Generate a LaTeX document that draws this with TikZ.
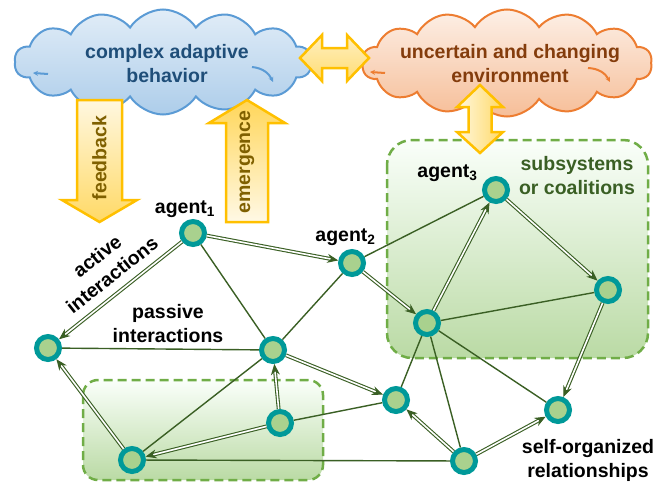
\documentclass[tikz,border=0pt]{standalone}
\usepackage{fontspec}
\setmainfont{Liberation Sans}
\usetikzlibrary{shapes.symbols,
  arrows.meta
}
\definecolor{cloudblue}{HTML}{5B9BD5}
\definecolor{cloudorange}{HTML}{ED7D31}
\definecolor{textblue}{HTML}{1F4E79}
\definecolor{textbrown}{HTML}{843C0C}
\definecolor{textolive}{HTML}{7F6000}
\definecolor{arrowgold}{HTML}{FFC000}
\definecolor{boxgreen}{HTML}{70AD47}
\definecolor{edgegreen}{HTML}{3A5F24}
\definecolor{agentfill}{HTML}{A9D18E}
\definecolor{agentring}{HTML}{009999}
\tikzset{>={Stealth[length=11pt,width=9pt]},
  agent/.style={circle,draw=agentring,line width=5pt,fill=agentfill,minimum size=23pt,inner sep=0pt},
  active/.style={->,draw=edgegreen,double=white,line width=1.1pt,double distance=1.6pt},
  passive/.style={draw=edgegreen,line width=1.4pt},
  txt/.style={font=\fontsize{19.5}{24}\selectfont\bfseries,align=center,inner sep=0pt},
  coalition/.style={draw=boxgreen,line width=2.5pt,dash pattern=on 9pt off 5pt,top color=green!2!white,bottom color=agentfill!80!white},
  bigarrow/.style={draw=arrowgold,line width=2.5pt,line join=miter},
  puff/.style={cloud,cloud puffs=14,cloud puff arc=115,cloud ignores aspect,line width=2pt,inner sep=0pt}
}

\begin{document}
\begin{tikzpicture}[x=1pt,y=-1pt]
  \useasboundingbox (0,0) rectangle (665,482);

  % Coalitions
  \draw[coalition,rounded corners=15pt] (83,380) rectangle (323,480);
  \draw[coalition,rounded corners=25pt] (387,140) rectangle (648,358);

  % Clouds
  \node[puff,draw=cloudblue,top color=cloudblue!18!white,bottom color=cloudblue!50!white,
    minimum width=297pt,minimum height=105pt] (Behavior) at (163,62) {};
  \node[txt,text=textblue] at (167,64) {complex adaptive\\behavior};
  \draw[cloudblue,line width=2pt,<-,>={Stealth[length=5pt,width=5pt]}] (33,73) -- (48,74);
  \draw[cloudblue,line width=2pt,->,>={Stealth[length=5pt,width=5pt]}] (252,67) to[bend left=30] (273,82);

  \node[puff,draw=cloudorange,top color=cloudorange!12!white,bottom color=cloudorange!50!white,
    minimum width=290pt,minimum height=107pt] (Environment) at (507,63) {};
  \node[txt,text=textbrown] at (510,64) {uncertain and changing\\environment};
  \draw[cloudorange,line width=2pt,<-,>={Stealth[length=5pt,width=5pt]}] (370,72) -- (385,73);
  \draw[cloudorange,line width=2pt,->,>={Stealth[length=5pt,width=5pt]}] (588,68) to[bend left=30] (610,82);

  % Block arrows
  \draw[bigarrow,top color=arrowgold!25!white,bottom color=arrowgold!55!white]
    (300,58) -- (322,35) -- (322,48) -- (347,48) -- (347,35) -- (369,58)
    -- (347,81) -- (347,68) -- (322,68) -- (322,81) -- cycle;
  \draw[bigarrow,left color=arrowgold!12!white,right color=arrowgold!60!white]
    (480,85) -- (503,107) -- (491.5,107) -- (491.5,132) -- (503,132) -- (480,153)
    -- (457,132) -- (468.5,132) -- (468.5,107) -- (457,107) -- cycle;
  \draw[bigarrow,top color=arrowgold!12!white,bottom color=arrowgold!60!white]
    (77,100) -- (122,100) -- (122,200) -- (137,200) -- (99.5,222) -- (62,200) -- (77,200) -- cycle;
  \node[txt,text=textolive,rotate=90] (Feedback) at (99.5,158) {feedback};
  \draw[bigarrow,top color=arrowgold!65!white,bottom color=arrowgold!10!white]
    (226,222) -- (226,123) -- (209,123) -- (247,100) -- (285,123) -- (268,123) -- (268,222) -- cycle;
  \node[txt,text=textolive,rotate=90] (Emergence) at (247,162) {emergence};

  % Agents
  \node[agent] (Agent1) at (193,233) {};
  \node[agent] (Agent2) at (352,263) {};
  \node[agent] (Agent3) at (496,190) {};
  \node[agent] (Right) at (608,290) {};
  \node[agent] (Cluster) at (427,323) {};
  \node[agent] (Left) at (48,348) {};
  \node[agent] (Hub) at (273,350) {};
  \node[agent] (Corner) at (132,460) {};
  \node[agent] (Inner) at (280,423) {};
  \node[agent] (Middle) at (396,400) {};
  \node[agent] (Self) at (558,410) {};
  \node[agent] (Bottom) at (464,461) {};

  % Labels
  \node[txt,anchor=base] at (185,213) {agent\textsubscript{1}};
  \node[txt,anchor=base] at (345.5,241) {agent\textsubscript{2}};
  \node[txt,anchor=base] at (447.5,177) {agent\textsubscript{3}};
  \node[txt,rotate=38.4] at (104.5,265.5) {active\\interactions};
  \node[txt] at (168,324) {passive\\interactions};
  \node[txt,text=edgegreen] at (577,176) {subsystems\\or coalitions};
  \node[txt] at (588,460) {self-organized\\relationships};

  % Passive interactions
  \draw[passive] (Agent1) -- (Hub);
  \draw[passive] (Left) -- (Hub);
  \draw[passive] (Hub) -- (Agent2);
  \draw[passive] (Hub) -- (Corner);
  \draw[passive] (Inner) -- (Middle);
  \draw[passive] (Corner) -- (Bottom);
  \draw[passive] (Agent2) -- (Agent3);
  \draw[passive] (Cluster) -- (Right);
  \draw[passive] (Cluster) -- (Middle);
  \draw[passive] (Cluster) -- (Bottom);
  \draw[passive] (Cluster) -- (Self);

  % Active interactions
  \draw[active] (Agent1) -- (Left);
  \draw[active] (Agent1) -- (Agent2);
  \draw[active] (Corner) -- (Left);
  \draw[active] (Inner) -- (Hub);
  \draw[active] (Inner) -- (Corner);
  \draw[active] (Hub) -- (Middle);
  \draw[active] (Agent2) -- (Cluster);
  \draw[active] (Cluster) -- (Agent3);
  \draw[active] (Agent3) -- (Right);
  \draw[active] (Right) -- (Self);
  \draw[active] (Bottom) -- (Middle);
  \draw[active] (Bottom) -- (Self);
\end{tikzpicture}
\end{document}
